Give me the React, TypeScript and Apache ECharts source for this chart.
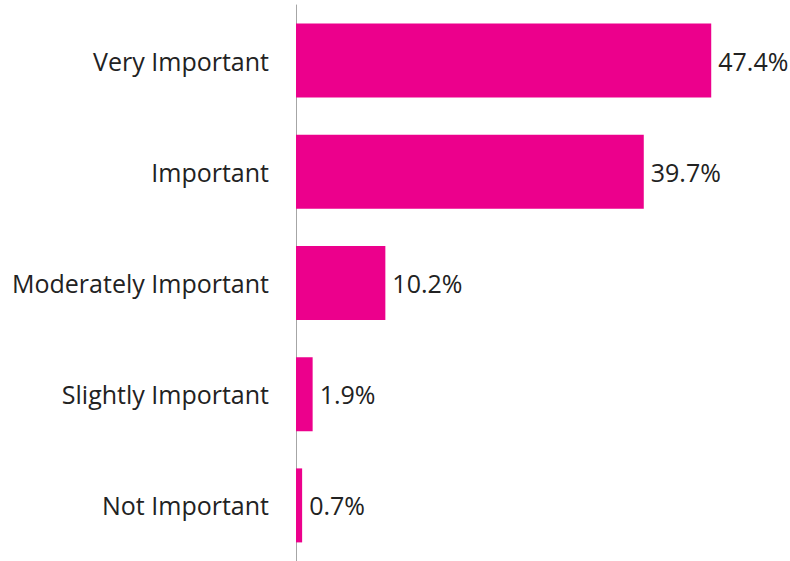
import React, { useEffect, useRef } from "react";
import * as echarts from "echarts";

const categories = ["Very Important", "Important", "Moderately Important", "Slightly Important", "Not Important"];
const values = [47.4, 39.7, 10.2, 1.9, 0.7];

export default function App() {
  const ref = useRef<HTMLDivElement>(null);
  useEffect(() => {
    document.body.style.margin = "0";
    const chart = echarts.init(ref.current!, null, { renderer: "svg" });
    chart.setOption({
      animation: false,
      grid: { left: 296, right: 56, top: 5, bottom: 0, containLabel: false },
      xAxis: {
        type: "value",
        min: 0,
        max: 50,
        show: false,
      },
      yAxis: {
        type: "category",
        data: categories,
        inverse: true,
        axisLine: { show: true, lineStyle: { color: "#a6a6a6", width: 1 } },
        axisTick: { show: false },
        axisLabel: {
          margin: 27,
          fontFamily: "Open Sans",
          fontSize: 25,
          color: "#222222",
        },
      },
      series: [
        {
          type: "bar",
          data: values,
          barWidth: 74,
          itemStyle: { color: "#EC008C" },
          label: {
            show: true,
            position: "right",
            distance: 7,
            fontFamily: "Open Sans",
            fontSize: 25,
            color: "#222222",
            formatter: (p: any) => p.value.toFixed(1) + "%",
          },
        },
      ],
    });
    return () => chart.dispose();
  }, []);
  return <div ref={ref} style={{ position: "absolute", left: 0, top: 0, width: 790, height: 561 }} />;
}
